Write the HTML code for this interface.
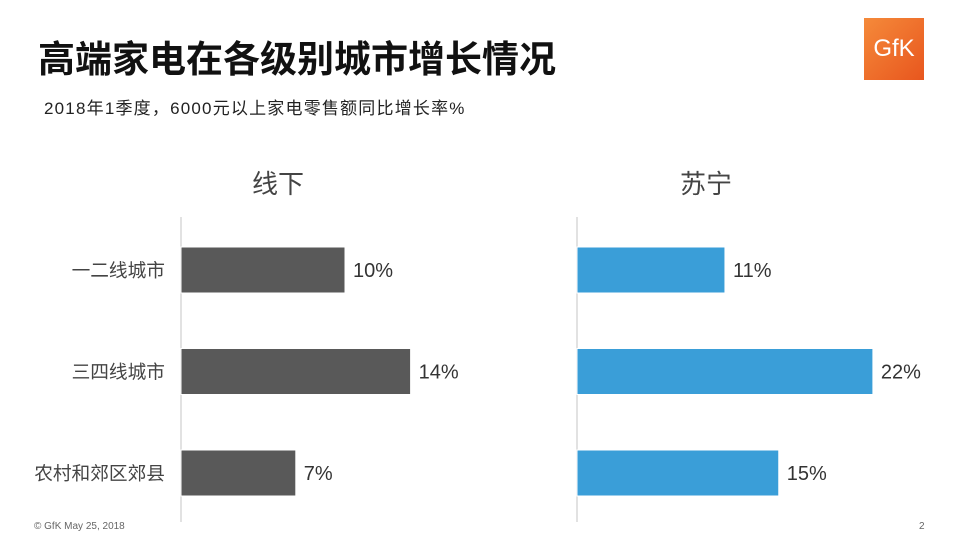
<!DOCTYPE html>
<html><head><meta charset="utf-8"><style>
body{margin:0;width:959px;height:539px;background:#fff;position:relative;overflow:hidden;font-family:"Liberation Sans","Noto Sans CJK SC",sans-serif}
.t{position:absolute;white-space:nowrap}
</style></head><body>
<div class="t" style="left:38px;top:29px;font-size:37px;font-weight:bold;color:#111">高端家电在各级别城市增长情况</div>
<div class="t" style="left:44px;top:94px;font-size:17px;letter-spacing:1.2px;color:#222">2018年1季度，6000元以上家电零售额同比增长率%</div>
<div style="position:absolute;left:864px;top:18px;width:60px;height:62px;background:linear-gradient(135deg,#f58a3a,#e8561e);color:#fff;font-size:24px;display:flex;align-items:center;justify-content:center">GfK</div>
<div class="t" style="left:34px;top:521px;font-size:10px;color:#666">© GfK May 25, 2018</div>
<div class="t" style="left:919px;top:521px;font-size:10px;color:#666">2</div>
<svg id="c" width="959" height="539" style="position:absolute;left:0;top:0"></svg>
<script>
const categories=["一二线城市","三四线城市","农村和郊区郊县"];
const offline=[10,14,7];
const suning=[11,22,15];
const panels=["线下","苏宁"];
const ns="http://www.w3.org/2000/svg";
const svg=document.getElementById('c');
function mk(t,a){const e=document.createElementNS(ns,t);for(const k in a)e.setAttribute(k,a[k]);svg.appendChild(e);return e;}
function y(i){return 270+i*101.5;}
function draw(x0,scale,vals,color,title,tx){
 const h=mk('text',{x:tx,y:193,'font-size':26,fill:'#444','text-anchor':'middle'});h.textContent=title;
 
 
 const ax=mk('line',{x1:x0,x2:x0,y1:217,y2:522,stroke:'#d9d9d9','stroke-width':1.5});
 
 
 vals.forEach((v,i)=>{
  const r=mk('rect',{x:x0,y:y(i)-23,width:v*scale,height:46,fill:color,stroke:'#fff','stroke-width':1});
  
  
  const l=mk('text',{x:x0+v*scale+8,y:y(i)+7,'font-size':20,fill:'#333'});l.textContent=v+'%';
  
  
 });
}
categories.forEach((c,i)=>{const t=mk('text',{x:165,y:y(i)+7,'font-size':18.7,fill:'#444','text-anchor':'end'});t.textContent=c;
 
 });
draw(181,16.4,offline,'#595959',panels[0],278);
draw(577,13.45,suning,'#3a9ed8',panels[1],706);
</script>
</body></html>
